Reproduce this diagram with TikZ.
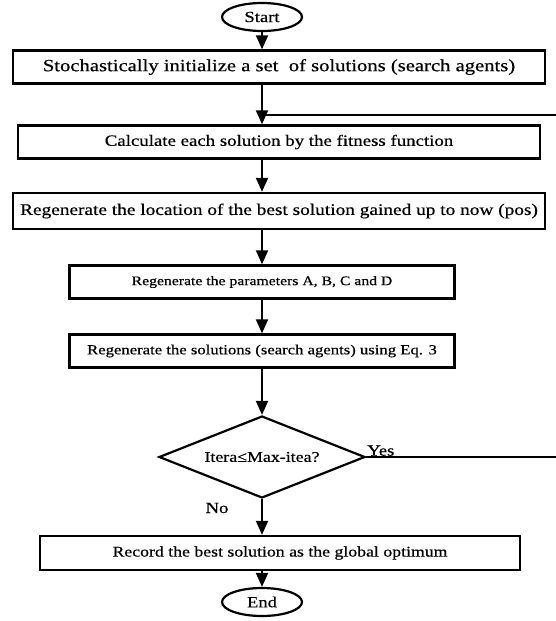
\documentclass[tikz,border=0pt]{standalone}
\usepackage{fontspec}
\setmainfont{Liberation Serif}[FakeStretch=1.2,FakeBold=0.5]
\usepackage{tikz}
\usetikzlibrary{arrows.meta,shapes.geometric}
\newcommand{\txtsize}[1]{\fontsize{#1}{#1}\selectfont}
\tikzset{
  font=\txtsize{15.5},
  >={Triangle[width=12pt,length=14pt]},
  stepbox/.style={draw, line width=2.4pt, fill=white, align=center,
    inner sep=2pt, minimum height=33pt},
  terminal/.style={ellipse, draw, line width=2.2pt, minimum width=80pt,
    minimum height=28pt, inner sep=0pt},
  decision/.style={diamond, draw, line width=2.2pt, minimum width=206pt,
    minimum height=82pt, inner sep=0pt, aspect=2.5},
  flow/.style={->, line width=2pt},
  link/.style={line width=2pt},
  tag/.style={inner sep=1pt}
}
\begin{document}
\begin{tikzpicture}[x=1pt,y=-1pt]
  \useasboundingbox (0,0) rectangle (556,621);

  \node[terminal] (start) at (262,17) {Start};
  \node[stepbox, minimum width=532pt, font=\txtsize{17.2}] (init) at (279,67)
    {Stochastically initialize a set\ \ of solutions (search agents)};
  \node[stepbox, minimum width=522pt, font=\txtsize{15.7}] (fit)  at (279,142)
    {Calculate each solution by the fitness function};
  \node[stepbox, minimum width=532pt, minimum height=36pt, font=\txtsize{16.1}] (pos) at (279,211)
    {Regenerate the location of the best solution gained up to now (pos)};
  \node[stepbox, minimum width=385pt, font=\txtsize{13.1}] (par) at (262,282)
    {Regenerate the parameters A, B, C and D};
  \node[stepbox, minimum width=385pt, font=\txtsize{13.9}] (upd) at (262,351)
    {Regenerate the solutions (search agents) using Eq. 3};
  \node[decision, font=\txtsize{14.9}] (cond) at (262,457) {Itera≤Max-itea?};
  \node[stepbox, minimum width=480pt, minimum height=34pt, font=\txtsize{14.8}] (rec) at (280,553)
    {Record the best solution as the global optimum};
  \node[terminal] (end) at (262,602) {End};

  % loop entry from the right edge
  \coordinate (loopin)  at (556,115);
  \coordinate (loopout) at (556,457);

  % main column
  \draw[flow] (start) -- (start |- init.north);
  \draw[flow] (start |- init.south) -- (start |- fit.north);
  \draw[flow] (start |- fit.south) -- (start |- pos.north);
  \draw[flow] (start |- pos.south) -- (par);
  \draw[flow] (par) -- (upd);
  \draw[flow] (upd) -- (cond);
  \draw[flow] (cond) -- (cond |- rec.north);
  \draw[flow] (cond |- rec.south) -- (end);

  % return path
  \draw[link] (loopout) -- (cond.east);
  \draw[link] (loopin) -- (loopin -| start);

  \node[tag, anchor=south west] at (cond.east) {Yes};
  \node[tag] at (217,508) {No};
\end{tikzpicture}
\end{document}
